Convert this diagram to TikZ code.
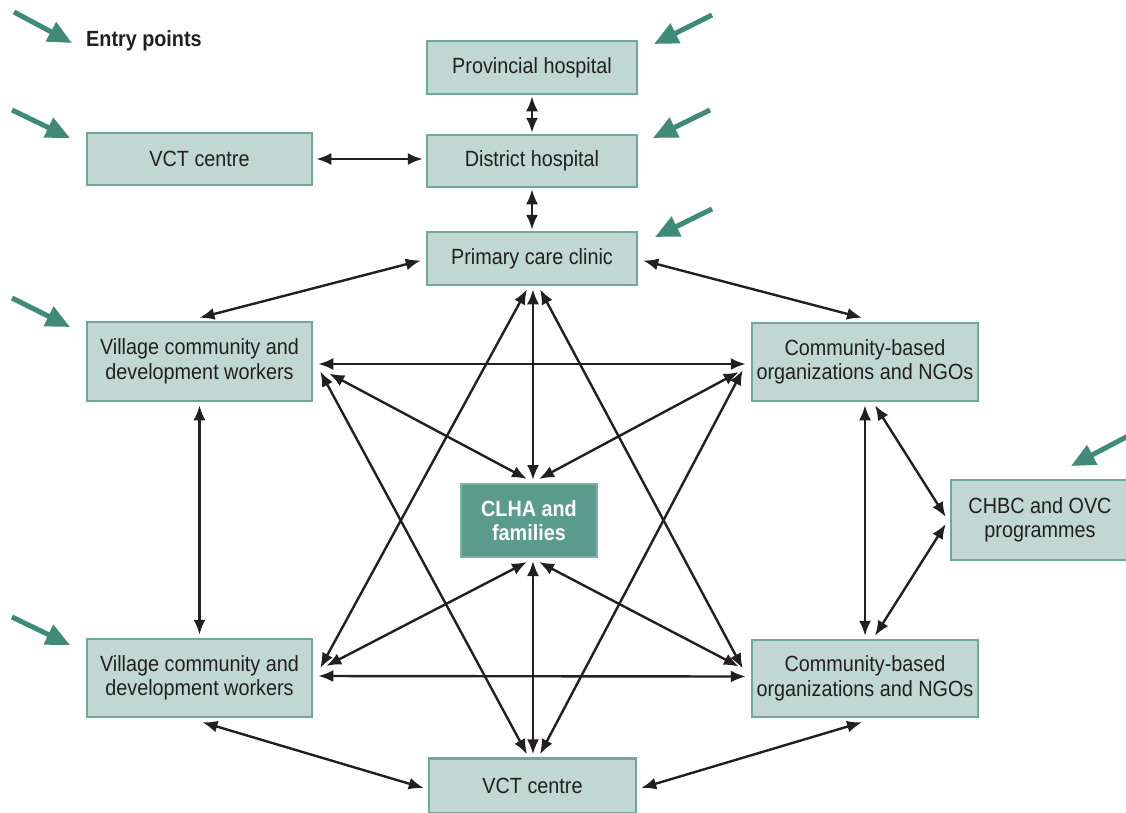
\documentclass[tikz,border=0pt]{standalone}
\usepackage{fontspec}
\setmainfont[FakeStretch=0.9]{Liberation Sans}
\usetikzlibrary{arrows.meta,calc}
\definecolor{boxfill}{HTML}{C0D8D1}
\definecolor{boxline}{HTML}{6FA99B}
\definecolor{clhafill}{HTML}{5B9B8B}
\definecolor{clhaline}{HTML}{7DB2A6}
\definecolor{entry}{HTML}{3F8A79}
\definecolor{txt}{HTML}{231F20}
\begin{document}
\begin{tikzpicture}[x=1pt,y=-1pt,
  box/.style={draw=boxline, line width=2.5pt, fill=boxfill, inner sep=0pt, align=center, text=txt, font=\fontsize{22}{24.5}\selectfont},
  clhabox/.style={draw=clhaline, line width=2pt, fill=clhafill, inner sep=0pt, align=center, text=white, font=\fontsize{22}{24.5}\selectfont\bfseries},
  dbl/.style={{Latex[length=15pt,width=12pt]}-{Latex[length=15pt,width=12pt]}, line width=2.4pt, draw=txt},
  entryarr/.style={-{Triangle[length=24pt,width=21pt]}, line width=5pt, draw=entry}
]
\useasboundingbox (0,0) rectangle (1126,812);

% nodes
\node[box, minimum width=210, minimum height=53] (prov) at (532,67.5) {Provincial hospital};
\node[box, minimum width=210, minimum height=52] (dist) at (532,161) {District hospital};
\node[box, minimum width=225, minimum height=52] (vct1) at (199.5,159) {VCT centre};
\node[box, minimum width=210, minimum height=53] (prim) at (532,258.5) {Primary care clinic};
\node[box, minimum width=225, minimum height=79] (vil1) at (199.5,361.5) {Village community and\\development workers};
\node[box, minimum width=226, minimum height=78] (com1) at (865,362) {Community-based\\organizations and NGOs};
\node[clhabox, minimum width=136, minimum height=73] (clha) at (529,520.5) {CLHA and\\families};
\node[box, minimum width=178, minimum height=80] (chbc) at (1040,520) {CHBC and OVC\\programmes};
\node[box, minimum width=225, minimum height=78] (vil2) at (199.5,678) {Village community and\\development workers};
\node[box, minimum width=226, minimum height=77] (com2) at (865,678.5) {Community-based\\organizations and NGOs};
\node[box, minimum width=207, minimum height=55] (vct2) at (532.5,786) {VCT centre};

\node[anchor=west, text=txt, font=\fontsize{22}{24}\selectfont\bfseries, inner sep=0pt] (legend) at (86,41) {Entry points};

% connectors
\draw[dbl, shorten <=1pt, shorten >=1pt] (prov.south) -- (dist.north);
\draw[dbl, shorten <=1pt, shorten >=1pt] (dist.south) -- (prim.north);
\draw[dbl] ($(vct1.east)+(3,0)$) -- ($(dist.west)+(-3,-2)$);
\draw[dbl] ($(prim.west)+(-5,2)$) -- ($(vil1.north)+(0,-3)$);
\draw[dbl] ($(prim.east)+(5,2)$) -- ($(com1.north)+(-3,-4)$);
\draw[dbl] ($(vil1.east)+(5,2.5)$) -- ($(com1.west)+(-5,2)$);
\draw[dbl] ($(vil1.south)+(0,3)$) -- ($(vil2.north)+(0,-3)$);
\draw[dbl] ($(com1.south)+(0,3)$) -- ($(com2.north)+(0,-3)$);
\draw[dbl] ($(com1.south)+(10,3)$) -- ($(chbc.west)+(-4,-3)$);
\draw[dbl] ($(chbc.west)+(-4,4)$) -- ($(com2.north)+(10,-3)$);
\draw[dbl] ($(vil2.east)+(5,-2)$) -- ($(com2.west)+(-5,-2)$);
\draw[dbl] ($(vil2.south)+(3,4)$) -- ($(vct2.west)+(-4,2)$);
\draw[dbl] ($(com2.south)+(-3,4)$) -- ($(vct2.east)+(4,2)$);
\draw[dbl] ($(prim.south)+(1,3)$) -- ($(clha.north)+(4,-3)$);
\draw[dbl] ($(clha.south)+(4,3)$) -- ($(vct2.north)+(0.5,-3)$);
\draw[dbl] ($(clha.north)+(-2,-4)$) -- ($(vil1.east)+(16,12)$);
\draw[dbl] ($(clha.north)+(10,-4)$) -- ($(com1.west)+(-12,10)$);
\draw[dbl] ($(clha.south)+(-2,4)$) -- ($(vil2.east)+(13,-12)$);
\draw[dbl] ($(clha.south)+(10,4)$) -- ($(com2.west)+(-12,-12)$);
\draw[dbl] ($(prim.south)+(-5,3)$) -- ($(vil2.east)+(7,-10)$);
\draw[dbl] ($(prim.south)+(8,3)$) -- ($(com2.west)+(-8,-10)$);
\draw[dbl] ($(vct2.north)+(-5.5,-3)$) -- ($(vil1.east)+(7,10)$);
\draw[dbl] ($(vct2.north)+(7.5,-3)$) -- ($(com1.west)+(-8,8)$);

% entry point arrows
\coordinate (e0a) at (14,12);   \coordinate (e0b) at (72,43);
\coordinate (e1a) at (12,110);  \coordinate (e1b) at (70,138);
\coordinate (e2a) at (12,298);  \coordinate (e2b) at (70,327);
\coordinate (e3a) at (12,617);  \coordinate (e3b) at (70,645);
\coordinate (e4a) at (712,15);  \coordinate (e4b) at (654,44);
\coordinate (e5a) at (710,110); \coordinate (e5b) at (653,138);
\coordinate (e6a) at (712,209); \coordinate (e6b) at (655,237);
\coordinate (e7a) at (1130,435); \coordinate (e7b) at (1071,466);
\foreach \i in {0,...,7} {\draw[entryarr] (e\i a) -- (e\i b);}
\end{tikzpicture}
\end{document}
